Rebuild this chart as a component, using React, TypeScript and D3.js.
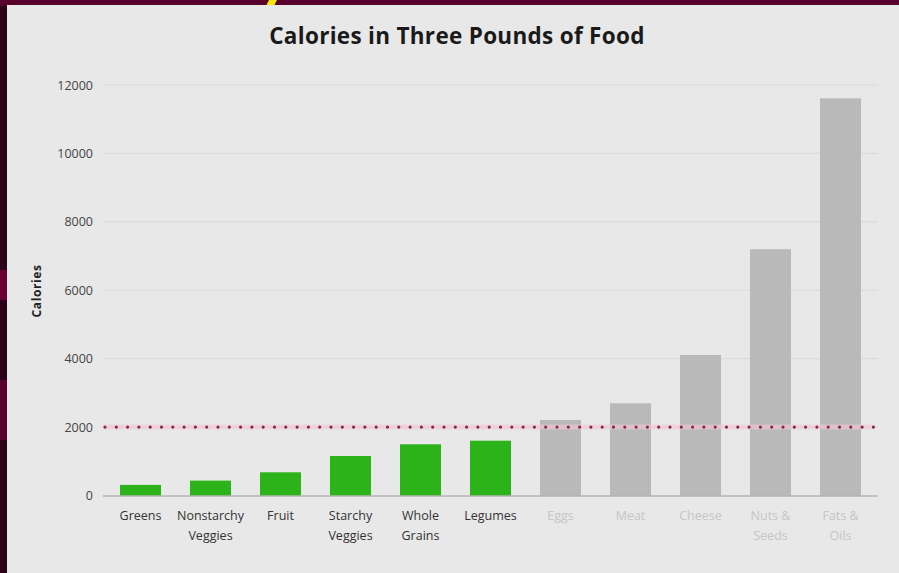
import React from "react";
import * as d3 from "d3";

const categories = ["Greens", "Nonstarchy Veggies", "Fruit", "Starchy Veggies", "Whole Grains", "Legumes", "Eggs", "Meat", "Cheese", "Nuts & Seeds", "Fats & Oils"];
const labelLines = [["Greens"], ["Nonstarchy", "Veggies"], ["Fruit"], ["Starchy", "Veggies"], ["Whole", "Grains"], ["Legumes"], ["Eggs"], ["Meat"], ["Cheese"], ["Nuts &", "Seeds"], ["Fats &", "Oils"]];
const calories = [310, 435, 678, 1155, 1497, 1602, 2207, 2695, 4107, 7200, 11610];
const plantBased = [true, true, true, true, true, true, false, false, false, false, false];
const yTicks = [0, 2000, 4000, 6000, 8000, 10000, 12000];
const dailyNeed = 2000;

const W = 899, H = 573;
const FONT = "'Open Sans', Lato, sans-serif";

export default function App() {
  const x = d3.scaleBand<string>().domain(categories).range([105.5, 875.5]).paddingInner(0.414).paddingOuter(0.207);
  const y = d3.scaleLinear().domain([0, 12000]).range([495.5, 85]);
  const axisL = 103, axisR = 878;

  return (
    <svg width={W} height={H} style={{ position: "absolute", left: 0, top: 0 }}>
      {/* surrounding frame */}
      <rect x={0} y={0} width={W} height={H} fill="#2c0019" />
      <rect x={0} y={0} width={W} height={6} fill="#58002c" />
      <rect x={0} y={270} width={8} height={30} fill="#6a0034" />
      <rect x={0} y={380} width={8} height={60} fill="#5a002e" />
      <polygon points="269,0 277,0 274,6 266,6" fill="#f5e800" />
      <rect x={7} y={5} width={W - 7} height={H - 5} fill="#e8e8e8" />

      {/* title */}
      <text x={457} y={44} textAnchor="middle" fontFamily={FONT} fontWeight={700} fontSize={22.5} letterSpacing={0.3} fill="#1a1a1a">
        Calories in Three Pounds of Food
      </text>

      {/* gridlines */}
      {yTicks.filter((t) => t > 0).map((t) => (
        <line key={t} x1={axisL} x2={axisR} y1={y(t)} y2={y(t)} stroke="#dadada" strokeWidth={1.2} />
      ))}

      {/* y tick labels */}
      {yTicks.map((t) => (
        <text key={t} x={93} y={y(t) + 4.5} textAnchor="end" fontFamily={FONT} fontSize={12.5} fill="#444">
          {t}
        </text>
      ))}

      {/* y axis title */}
      <text transform={`translate(41,291) rotate(-90)`} textAnchor="middle" fontFamily={FONT} fontWeight={700} fontSize={12} letterSpacing={0.6} fill="#222">
        Calories
      </text>

      {/* bars */}
      {categories.map((c, i) => (
        <rect key={c} x={x(c)} y={y(calories[i])} width={x.bandwidth()} height={y(0) - y(calories[i])} fill={plantBased[i] ? "#2db31a" : "#b9b9b9"} />
      ))}

      {/* x axis line */}
      <line x1={axisL} x2={axisR} y1={y(0) + 0.5} y2={y(0) + 0.5} stroke="#9a9a9a" strokeWidth={1.2} />

      {/* daily need dotted line */}
      <line x1={axisL} x2={874} y1={y(dailyNeed)} y2={y(dailyNeed)} stroke="#f2c9d3" strokeWidth={5} opacity={0.6} />
      <line x1={axisL + 2} x2={874} y1={y(dailyNeed)} y2={y(dailyNeed)} stroke="#8a2545" strokeWidth={3.2} strokeLinecap="round" strokeDasharray="0 11.3" />

      {/* x labels */}
      {categories.map((c, i) => (
        <text key={c} textAnchor="middle" fontFamily={FONT} fontSize={12.5} fill={plantBased[i] ? "#333" : "#c6c6c6"}>
          {labelLines[i].map((l, j) => (
            <tspan key={j} x={(x(c) as number) + x.bandwidth() / 2} y={520 + j * 20}>
              {l}
            </tspan>
          ))}
        </text>
      ))}
    </svg>
  );
}
